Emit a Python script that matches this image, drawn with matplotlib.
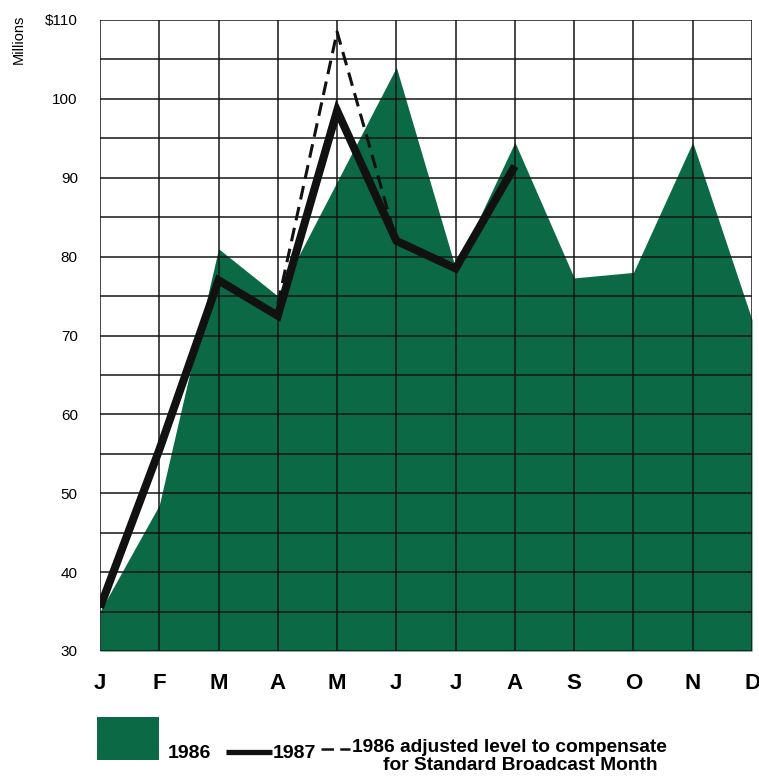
import matplotlib
matplotlib.use("Agg")
import matplotlib.pyplot as plt
from matplotlib.patches import Rectangle
from matplotlib.lines import Line2D

months = ["J", "F", "M", "A", "M", "J", "J", "A", "S", "O", "N", "D"]
sales_1986 = [35, 48.5, 81, 75, 89.5, 104, 78.5, 94.5, 77.3, 78, 94.5, 72]
sales_1987 = [35.5, 55.5, 77, 72.5, 98.5, 82, 78.5, 91.5]
adj_months_idx = [3, 4, 5]
adj_1986 = [74, 108.5, 82]
ytick_vals = [30, 40, 50, 60, 70, 80, 90, 100, 110]
ytick_labels = ["30", "40", "50", "60", "70", "80", "90", "100", "$110"]

GREEN = "#0b6a45"
FONT = "Liberation Sans"

W, H = 759, 779
fig = plt.figure(figsize=(W / 100, H / 100), dpi=100)
fig.patch.set_facecolor("white")
ax = fig.add_axes([100 / W, 1 - 651 / H, 652 / W, 631 / H])

x = list(range(len(months)))
ax.fill_between(x, 30, sales_1986, color=GREEN, lw=0, zorder=1)

# grid
for v in range(30, 111, 5):
    ax.axhline(v, color="#151515", lw=1.1, zorder=2)
for xi in x:
    ax.axvline(xi, color="#151515", lw=1.1, zorder=2)

ax.plot(adj_months_idx, adj_1986, color="#111111", lw=2.2,
        dashes=(4.5, 2.5), zorder=3, solid_joinstyle="miter")
ax.plot(x[:len(sales_1987)], sales_1987, color="#111111", lw=5.8,
        zorder=4, solid_joinstyle="miter", solid_capstyle="butt")

ax.set_xlim(0, 11)
ax.set_ylim(30, 110)
for s in ax.spines.values():
    s.set_visible(False)

ax.set_xticks(x)
ax.set_xticklabels(months, fontfamily=FONT, fontweight="heavy", fontsize=16)
ax.set_yticks(ytick_vals)
ax.set_yticklabels(ytick_labels, fontfamily=FONT, fontsize=11)
ax.tick_params(axis="x", length=0, pad=16)
ax.tick_params(axis="y", length=0, pad=16)

fig.text(19 / W, 1 - 39 / H, "Millions", rotation=90, ha="center", va="center",
         fontfamily=FONT, fontsize=10.5)

# legend
fig.patches.append(Rectangle((97 / W, 1 - 760 / H), 62 / W, 43 / H,
                             transform=fig.transFigure, facecolor=GREEN,
                             edgecolor="none"))
ly = 1 - 753 / H
fig.text(168 / W, ly, "1986", ha="left", va="center", fontfamily=FONT,
         fontweight="heavy", fontsize=14)
fig.lines.append(Line2D([226 / W, 272 / W], [1 - 752 / H, 1 - 752 / H],
                        transform=fig.transFigure,
                        color="#111111", lw=3.8, solid_capstyle="butt"))
fig.text(273 / W, ly, "1987", ha="left", va="center", fontfamily=FONT,
         fontweight="heavy", fontsize=14)
fig.lines.append(Line2D([321 / W, 350 / W], [1 - 749 / H, 1 - 749 / H],
                        transform=fig.transFigure, color="#111111", lw=1.8,
                        dashes=(5, 2.5)))
fig.text(352 / W, 1 - 748 / H, "1986 adjusted level to compensate", ha="left",
         va="center", fontfamily=FONT, fontweight="heavy", fontsize=13.8)
fig.text(383 / W, 1 - 765 / H, "for Standard Broadcast Month", ha="left",
         va="center", fontfamily=FONT, fontweight="heavy", fontsize=13.8)

fig.savefig("out.png", dpi=100, facecolor="white")
